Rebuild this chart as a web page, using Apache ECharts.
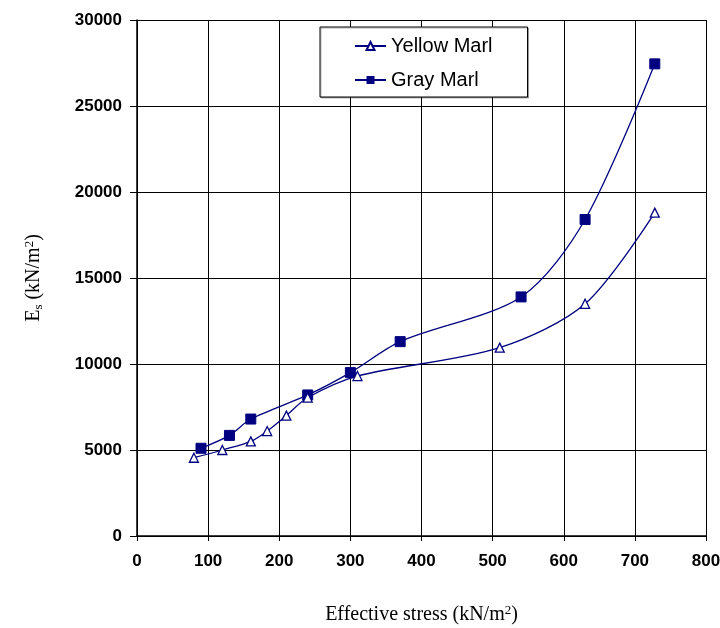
<!DOCTYPE html>
<html lang="en" style="height: 100%">
  <head>
    <meta charset="utf-8" />
  </head>
  <body style="height: 100%; margin: 0; background: #fff">
    <div id="container" style="width: 720px; height: 628px"></div>
    <script src="https://cdn.jsdelivr.net/npm/echarts@6/dist/echarts.min.js"></script>
    <script type="text/javascript">
      // effective stress (kN/m2) vs Es (kN/m2)
      const yellowX = [80, 120, 160, 183, 210, 240, 310, 510, 630, 728];
      const yellowY = [4550, 5000, 5500, 6100, 7000, 8050, 9300, 10950, 13500, 18800];
      const grayX = [90, 130, 160, 240, 300, 370, 540, 630, 728];
      const grayY = [5100, 5850, 6800, 8200, 9500, 11300, 13900, 18400, 27450];

      function pairs(xs, ys) {
        var res = [];
        for (var i = 0; i < xs.length; i++) res.push([xs[i], ys[i]]);
        return res;
      }

      var myChart = echarts.init(document.getElementById("container"), null, {
        renderer: "canvas",
      });
      var navy = "#000080";
      var serif = "Liberation Serif, Times New Roman";
      var labelFont = {
        fontFamily: "Liberation Sans, Arial",
        fontWeight: "bold",
        fontSize: 17,
        color: "#000",
      };

      var option = {
        animation: false,
        grid: { left: 137, right: 14, top: 20, bottom: 92, outerBoundsMode: "none" },
        legend: {
          orient: "vertical",
          left: 320,
          top: 27,
          padding: [9, 35, 7, 34],
          itemGap: 14,
          itemWidth: 31,
          itemHeight: 10,
          borderColor: "#000",
          borderWidth: 1,
          backgroundColor: "#fff",
          shadowColor: "rgba(0,0,0,0.3)",
          shadowBlur: 0,
          shadowOffsetX: 1,
          shadowOffsetY: 1,
          textStyle: {
            fontFamily: "Liberation Sans, Arial",
            fontSize: 20,
            color: "#000",
          },
          data: ["Yellow Marl", "Gray Marl"],
        },
        xAxis: {
          type: "value",
          min: 0,
          max: 800,
          interval: 100,
          name: "{t|Effective stress (kN/m}{sup|2}{t|)}",
          nameLocation: "middle",
          nameGap: 68,
          nameTextStyle: {
            rich: {
              t: { fontFamily: serif, fontSize: 20, color: "#000" },
              sup: { fontFamily: serif, fontSize: 13, color: "#000", verticalAlign: "top", padding: [0, 0, 9, 0] },
            },
          },
          axisLine: { show: true, lineStyle: { color: "#000", width: 1.5 } },
          axisTick: { show: true, length: 5, lineStyle: { color: "#000" } },
          axisLabel: Object.assign({ margin: 17 }, labelFont),
          splitLine: { show: true, lineStyle: { color: "#000", width: 1 } },
        },
        yAxis: {
          type: "value",
          min: 0,
          max: 30000,
          interval: 5000,
          name: "{t|E}{sub|s}{t| (kN/m}{sup|2}{t|)}",
          nameLocation: "middle",
          nameGap: 92,
          nameRotate: 90,
          nameTextStyle: {
            rich: {
              t: { fontFamily: serif, fontSize: 20, color: "#000" },
              sub: { fontFamily: serif, fontSize: 13, color: "#000", verticalAlign: "bottom", padding: [9, 0, 0, 0] },
              sup: { fontFamily: serif, fontSize: 13, color: "#000", verticalAlign: "top", padding: [0, 0, 9, 0] },
            },
          },
          axisLine: { show: true, lineStyle: { color: "#000", width: 1.5 } },
          axisTick: { show: true, length: 7, lineStyle: { color: "#000" } },
          axisLabel: Object.assign(
            { margin: 15, formatter: function (v) { return String(v); } },
            labelFont
          ),
          splitLine: { show: true, lineStyle: { color: "#000", width: 1 } },
        },
        series: [
          {
            name: "Yellow Marl",
            type: "line",
            smooth: 0.3,
            data: pairs(yellowX, yellowY),
            symbol: "triangle",
            symbolSize: 9,
            showAllSymbol: true,
            lineStyle: { color: navy, width: 1.3 },
            itemStyle: { color: "#fff", borderColor: navy, borderWidth: 1.3 },
            z: 3,
          },
          {
            name: "Gray Marl",
            type: "line",
            smooth: 0.3,
            data: pairs(grayX, grayY),
            symbol: "rect",
            symbolSize: 10,
            showAllSymbol: true,
            lineStyle: { color: navy, width: 1.3 },
            itemStyle: { color: navy, borderColor: navy },
            z: 2,
          },
        ],
      };
      myChart.setOption(option);
      window.addEventListener("resize", myChart.resize);
    </script>
  </body>
</html>
